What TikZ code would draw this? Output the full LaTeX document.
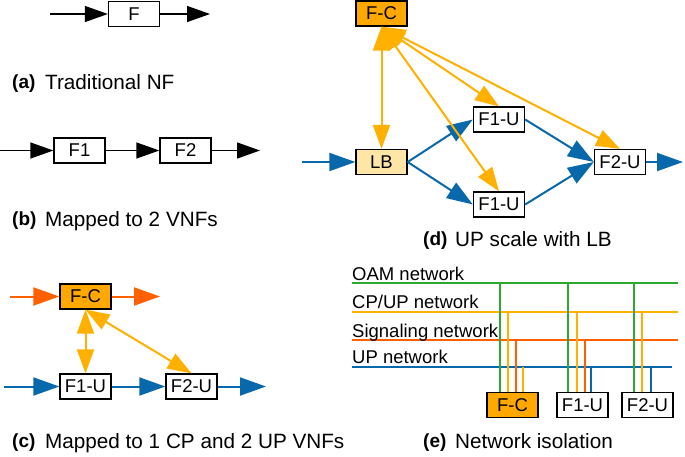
\documentclass[tikz,border=0pt]{standalone}
\usepackage{fontspec}
\setmainfont{Liberation Sans}
\usetikzlibrary{arrows.meta,calc}
\definecolor{cblue}{HTML}{0868AC}
\definecolor{cyellow}{HTML}{FFB000}
\definecolor{corange}{HTML}{FF6000}
\definecolor{cgreen}{HTML}{2EA82E}
\definecolor{cfc}{HTML}{FFA800}
\definecolor{clb}{HTML}{FDE6A6}
\begin{document}
\begin{tikzpicture}[x=1pt,y=-1pt,
  box/.style={draw=black,line width=1.3pt,minimum width=51pt,minimum height=25pt,inner sep=0pt,font=\fontsize{18.5}{20}\selectfont},
  fcbox/.style={box,fill=cfc},
  lbbox/.style={box,fill=clb},
  blk/.style={line width=1.3pt,-{Triangle[length=23pt,width=16pt]}},
  bluearr/.style={cblue,line width=2pt,-{Triangle[length=26pt,width=18pt]}},
  orarr/.style={corange,line width=2pt,-{Triangle[length=26pt,width=18pt]}},
  yelarr/.style={cyellow,line width=2pt,{Triangle[length=24pt,width=17pt]}-{Triangle[length=24pt,width=17pt]}},
  tagtxt/.style={anchor=base west,inner sep=0pt,font=\bfseries\fontsize{19}{20}\selectfont},
  captxt/.style={anchor=base west,inner sep=0pt,font=\fontsize{20.7}{24}\selectfont},
  nettxt/.style={anchor=base west,inner sep=0pt,font=\fontsize{18.5}{22}\selectfont},
  netline/.style={line width=2.3pt},
  vline/.style={line width=2pt}
]
\useasboundingbox (0,0) rectangle (685,456);

% ---------- (a)
\node[box] (aF) at (134,14) {F};
\coordinate (ain) at (50,14);
\coordinate (aout) at (210,14);
\draw[blk] (ain) -- (aF.west);
\draw[blk] (aF.east) -- (aout);
\node[tagtxt] (atag) at (12,88) {(a)};
\node[captxt] (acap) at (45,89) {Traditional NF};

% ---------- (b)
\node[box] (bF1) at (79.5,150.5) {F1};
\node[box] (bF2) at (185.5,150.5) {F2};
\coordinate (bin) at (0,150.5);
\coordinate (bout) at (260,150.5);
\draw[blk] (bin) -- (bF1.west);
\draw[blk] (bF1.east) -- (bF2.west);
\draw[blk] (bF2.east) -- (bout);
\node[tagtxt] (btag) at (12,225) {(b)};
\node[captxt] (bcap) at (45,226) {Mapped to 2 VNFs};

% ---------- (c)
\node[fcbox] (cFC) at (85.5,296.5) {F-C};
\node[box] (cF1) at (85.5,386.5) {F1-U};
\node[box] (cF2) at (191.5,386.5) {F2-U};
\coordinate (cin1) at (10,296.5);
\coordinate (cout1) at (160,296.5);
\coordinate (cin2) at (4,386.5);
\coordinate (cout2) at (266,386.5);
\draw[orarr] (cin1) -- (cFC.west);
\draw[orarr] (cFC.east) -- (cout1);
\draw[bluearr] (cin2) -- (cF1.west);
\draw[bluearr] (cF1.east) -- (cF2.west);
\draw[bluearr] (cF2.east) -- (cout2);
\draw[yelarr] (cFC.south) -- (cF1.north);
\draw[yelarr] (cFC.south) -- (cF2.north);
\node[tagtxt] (ctag) at (12,447) {(c)};
\node[captxt] (ccap) at (45,448) {Mapped to 1 CP and 2 UP VNFs};

% ---------- (d)
\node[fcbox] (dFC) at (381.5,13.5) {F-C};
\node[lbbox] (dLB) at (381.5,162) {LB};
\node[box] (dF1a) at (499,119.5) {F1-U};
\node[box] (dF1b) at (499,204.5) {F1-U};
\node[box] (dF2) at (620,162) {F2-U};
\coordinate (din) at (302,162);
\coordinate (dout) at (683,162);
\draw[bluearr] (din) -- (dLB.west);
\draw[bluearr] (dLB.east) -- (dF1a.west);
\draw[bluearr] (dLB.east) -- (dF1b.west);
\draw[bluearr] (dF1a.east) -- (dF2.west);
\draw[bluearr] (dF1b.east) -- (dF2.west);
\draw[bluearr] (dF2.east) -- (dout);
\draw[yelarr] (dFC.south) -- (dLB.north);
\draw[yelarr] (dFC.south) -- (dF1a.north);
\draw[yelarr] (dFC.south) -- (dF1b.north);
\draw[yelarr] (dFC.south) -- (dF2.north);
\node[tagtxt] (dtag) at (423,245) {(d)};
\node[captxt] (dcap) at (455,246) {UP scale with LB};

% ---------- (e)
\coordinate (oamL) at (352,283);  \coordinate (oamR) at (678,283);
\coordinate (cpL) at (352,312);   \coordinate (cpR) at (678,312);
\coordinate (sigL) at (352,340);  \coordinate (sigR) at (678,340);
\coordinate (upL) at (352,367);   \coordinate (upR) at (672,367);
\draw[netline,cgreen] (oamL) -- (oamR);
\draw[netline,cyellow] (cpL) -- (cpR);
\draw[netline,corange] (sigL) -- (sigR);
\draw[netline,cblue] (upL) -- (upR);
\node[nettxt] (tOAM) at (352,280) {OAM network};
\node[nettxt] (tCP) at (352,308) {CP/UP network};
\node[nettxt] (tSIG) at (352,337) {Signaling network};
\node[nettxt] (tUP) at (352,363) {UP network};

\node[fcbox] (eFC) at (512.5,405) {F-C};
\node[box] (eF1) at (582.5,405) {F1-U};
\node[box] (eF2) at (647.5,405) {F2-U};

\foreach \b/\dx/\net/\col [count=\i] in {eFC/14/oamL/cgreen, eFC/22/cpL/cyellow, eFC/30/sigL/corange, eFC/37/upL/cyellow,
  eF1/12/oamL/cgreen, eF1/21/cpL/cyellow, eF1/29/sigL/corange, eF1/35/upL/cblue,
  eF2/13/oamL/cgreen, eF2/21/cpL/cyellow, eF2/30/upL/cblue}{
  \coordinate (v\i) at ($(\b.north west)+(\dx,0)$);
  \draw[vline,\col] (v\i) -- (v\i |- \net);
}
\node[tagtxt] (etag) at (423,447) {(e)};
\node[captxt] (ecap) at (455,448) {Network isolation};
\end{tikzpicture}
\end{document}
